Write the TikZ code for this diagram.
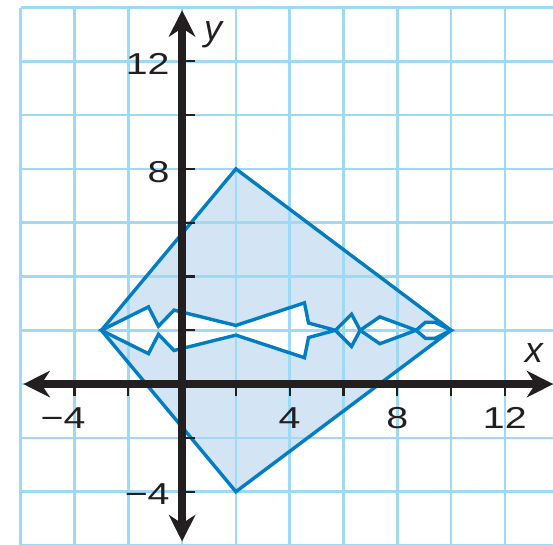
\documentclass[tikz,border=0pt]{standalone}
\usepackage{fontspec}
\usepackage{graphicx}
\setmainfont{Liberation Sans}
\usetikzlibrary{arrows.meta}
\definecolor{gridcyan}{RGB}{158,218,245}
\definecolor{kiteblue}{RGB}{0,125,195}
\definecolor{kitefill}{RGB}{211,228,244}
\definecolor{axisblack}{RGB}{35,31,32}
\tikzset{
  gridline/.style = {gridcyan, line width=1.3pt},
  axis/.style     = {axisblack, line width=4.5pt,
                     {Stealth[length=14pt,width=14pt]}-{Stealth[length=14pt,width=14pt]}},
  tickmark/.style = {axisblack, line width=1.2pt},
  outline/.style  = {kiteblue, line width=1.8pt, line join=miter},
  numlabel/.style = {font=\fontsize{16}{18}\selectfont, inner sep=0pt, text=axisblack},
  axlabel/.style  = {font=\fontsize{19}{22}\selectfont\itshape, inner sep=0pt, text=axisblack},
}
\newcommand{\wide}[1]{\scalebox{1.3}[1]{#1}}
% the cut-out inside the kite (mirror image about y=2)
\def\cutout{(L) -- (-1.25,2.87) -- (-0.88,2.15) -- (-0.3,2.75) -- (2,2.18)
  -- (4.55,3.02) -- (4.7,2.27) -- (5.7,2) -- (6.3,2.6) -- (6.62,2)
  -- (7.35,2.5) -- (8.7,2) -- (9.05,2.3) -- (9.4,2.3) -- (R)
  -- (9.4,1.7) -- (9.05,1.7) -- (8.7,2) -- (7.35,1.5) -- (6.62,2)
  -- (6.3,1.4) -- (5.7,2) -- (4.7,1.73) -- (4.55,0.98) -- (2,1.82)
  -- (-0.3,1.25) -- (-0.88,1.85) -- (-1.25,1.13) -- cycle}

\begin{document}
\begin{tikzpicture}[x=0.5cm,y=0.5cm]
\useasboundingbox (-6.77,-5.95) rectangle (13.79,14.28);
% ---- kite ----
\coordinate (L) at (-3,2);
\coordinate (T) at (2,8);
\coordinate (R) at (10,2);
\coordinate (B) at (2,-4);
\fill[kitefill,even odd rule] (L) -- (T) -- (R) -- (B) -- cycle \cutout;
% ---- grid ----
\begin{scope}
\clip (-6.77,-5.95) rectangle (13.79,14.28);
\draw[gridline] (-6,-6) grid[step=2] (14,14);
\end{scope}
\draw[outline] (L) -- (T) -- (R) -- (B) -- cycle;
\draw[outline] \cutout;
% ---- axes ----
\coordinate (xmin) at (-5.9,0);
\coordinate (xmax) at (13.8,0);
\coordinate (ymin) at (0,-5.85);
\coordinate (ymax) at (0,13.9);
\foreach \v in {-4,-2,2,4,6,8,10,12}{
  \draw[tickmark] (\v,0) -- (\v,-0.45);
  \draw[tickmark] (0,\v) -- (0.48,\v);
}
\draw[axis] (xmin) -- (xmax);
\draw[axis] (ymin) -- (ymax);
% ---- labels ----
\foreach \v/\t in {-4/\llap{−}4, 4/4, 8/8, 12/12}
  \node[numlabel] (xlab\v) at (\v,-1.26) {\wide{\t}};
\foreach \v/\t in {-4/−4, 8/8, 12/12}
  \node[numlabel,anchor=east] (ylab\v) at (-0.45,\v-0.1) {\wide{\t}};
\node[axlabel] (xname) at (13.08,1.15) {x};
\node[axlabel] (yname) at (1.15,13.0) {y};
\end{tikzpicture}
\end{document}
